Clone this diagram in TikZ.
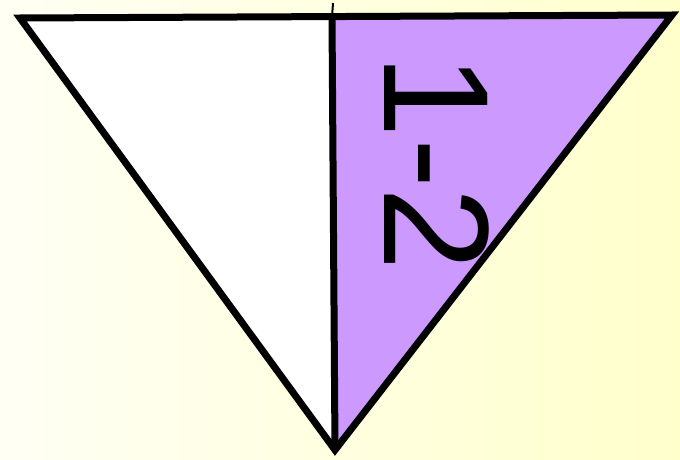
\documentclass[tikz,border=0pt]{standalone}
\usepackage{fontspec}
\setmainfont{Liberation Sans}
\usetikzlibrary{calc}
\definecolor{bgleft}{HTML}{FFFFF4}
\definecolor{bgright}{HTML}{FFFFCC}
\definecolor{halfB}{HTML}{CC99FF}

\begin{document}
\begin{tikzpicture}[x=1pt,y=-1pt,
 edge/.style={line width=7pt,line join=miter},
 label/.style={font=\fontsize{150}{150}\selectfont,rotate=-90,inner sep=0pt}]
\shade[left color=bgleft,right color=bgright] (0,0) rectangle (680,460);
\useasboundingbox (0,0) rectangle (680,460);
\coordinate (tl) at (20,18);
\coordinate (tr) at (672,15);
\coordinate (tm) at (332,17);
\coordinate (bt) at (335,450);
\coordinate (stub) at (333,3);
% two halves
\fill[white] (tl)--(tm)--(bt)--cycle;
\fill[halfB] (tm)--(tr)--(bt)--cycle;
\node[label] (num) at (437,163) {1-2};
% outline and divider
\draw[edge] (tl)--(tr)--(bt)--cycle;
\draw[edge] (tm)--(bt);
\draw[line width=2pt] (stub)--(tm);
\end{tikzpicture}
\end{document}
